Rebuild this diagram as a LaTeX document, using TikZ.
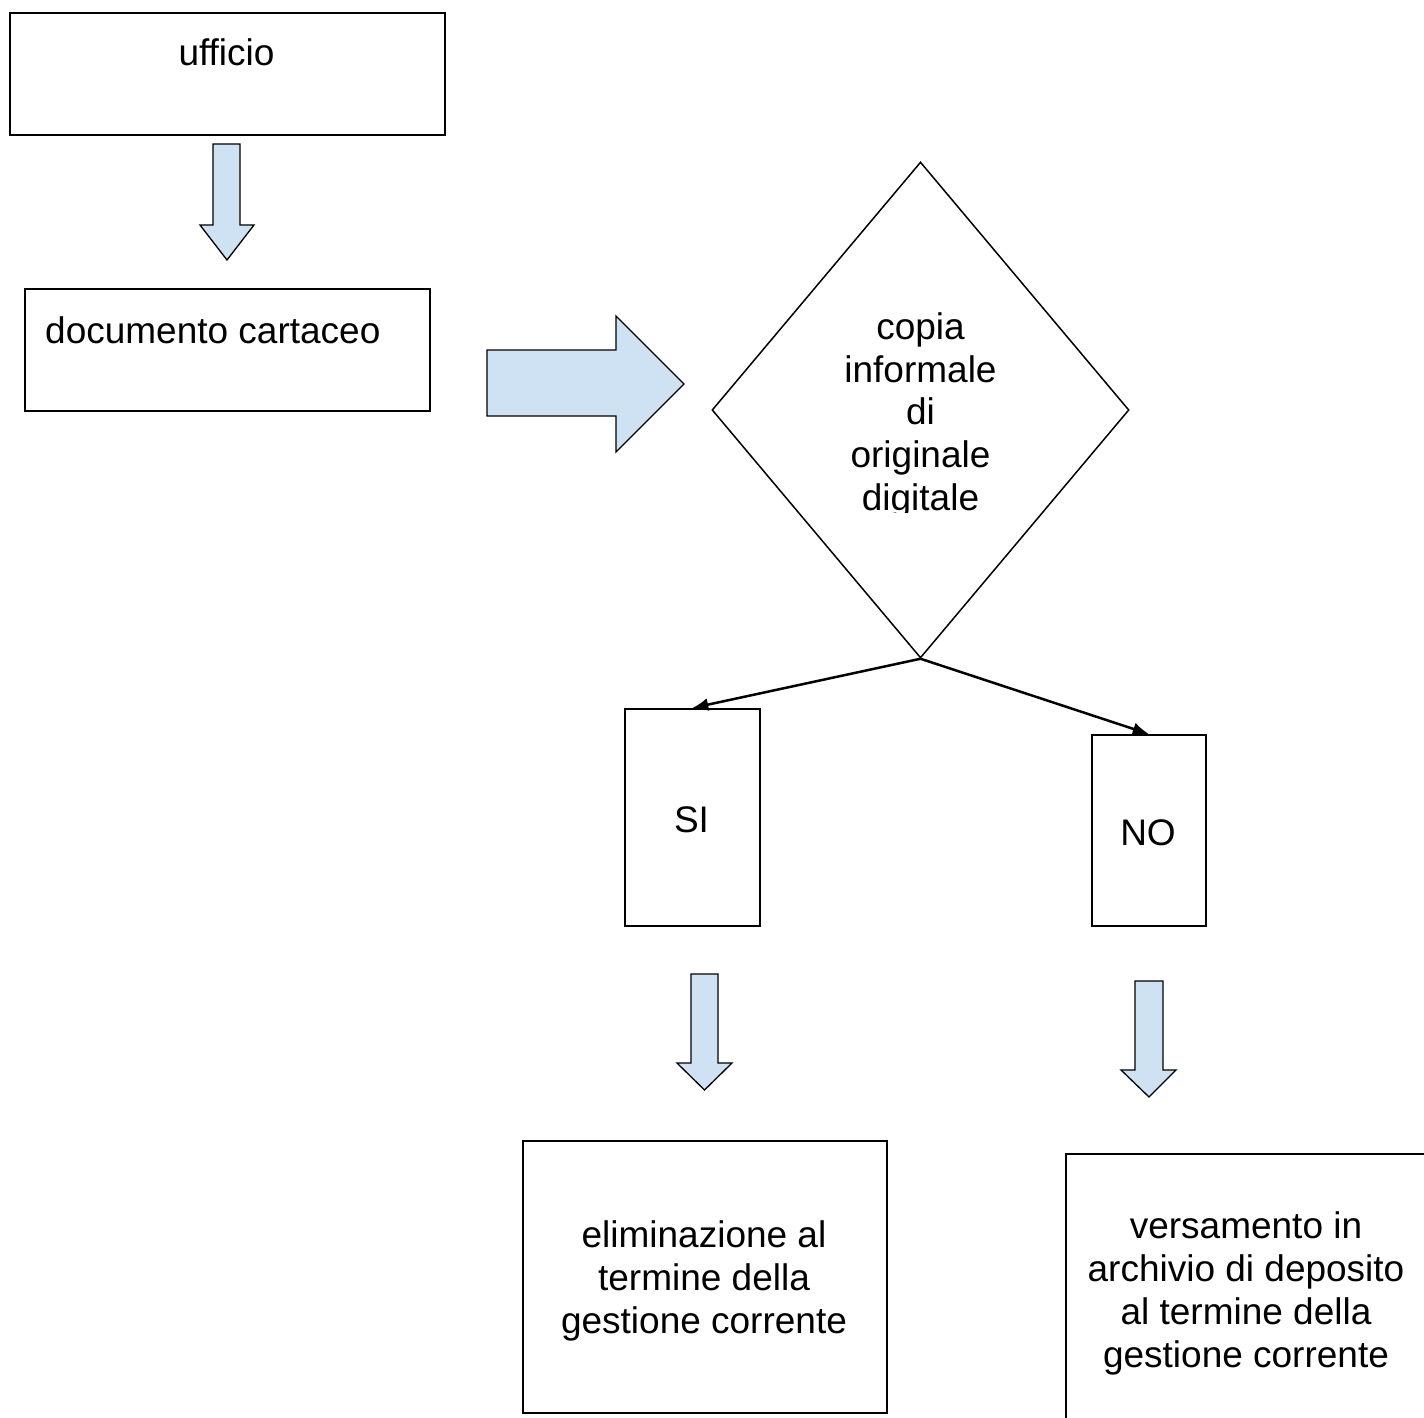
\documentclass[tikz,border=0pt]{standalone}
\usepackage{fontspec}
\setmainfont{Liberation Sans}
\usetikzlibrary{shapes.geometric,arrows.meta}
\definecolor{arrowblue}{HTML}{CFE2F3}
\tikzset{
  box/.style={draw=black, line width=1.6pt, inner sep=0pt, anchor=north west},
  lbl/.style={font=\fontsize{37}{43}\selectfont, inner sep=0pt, anchor=base, align=center},
  blockarrow/.style={draw=black, line width=1.3pt, fill=arrowblue, line join=miter},
  flow/.style={line width=2.5pt, -{Latex[length=16pt,width=13pt]}}
}
\begin{document}
\begin{tikzpicture}[x=1pt,y=-1pt]
\clip (0,0) rectangle (1424,1418);
\fill[white] (0,0) rectangle (1424,1418);
% boxes
\node[box, minimum width=435pt, minimum height=122pt] (ufficio) at (9,12) {};
\node[box, minimum width=405pt, minimum height=122pt] (doc) at (24,288) {};
\node[box, minimum width=135pt, minimum height=217pt] (si) at (624,708) {};
\node[box, minimum width=114pt, minimum height=191pt] (no) at (1091,734) {};
\node[box, minimum width=364pt, minimum height=272pt] (elim) at (522,1140) {};
\node[box, minimum width=420pt, minimum height=320pt] (vers) at (1065,1153) {};
% diamond
\node[draw=black, diamond, line width=1.5pt, minimum width=417pt, minimum height=496pt, inner sep=0pt] (dia) at (920.5,410) {};
% texts
\node[lbl] (ufficiotext) at (226.5,66) {ufficio};
\node[lbl, anchor=base west] (doctext) at (45,343) {documento cartaceo};
\begin{scope}
  \clip (700,280) rectangle (1140,512);
  \node[lbl, font=\fontsize{37}{42.6}\selectfont] (diatext) at (920.5,510) {copia\\informale\\di\\originale\\digitale};
\end{scope}
\node[lbl] (sitext) at (691.5,832) {SI};
\node[lbl] (notext) at (1148,845) {NO};
\node[lbl] (elimtext) at (704,1333) {eliminazione al\\termine della\\gestione corrente};
\node[lbl] (verstext) at (1246,1367) {versamento in\\archivio di deposito\\al termine della\\gestione corrente};
% block arrows
\draw[blockarrow] (213,144) -- (240,144) -- (240,225) -- (254,225) -- (227,260) -- (200,225) -- (213,225) -- cycle;
\draw[blockarrow] (487,350) -- (616,350) -- (616,316) -- (684,384) -- (616,452) -- (616,416) -- (487,416) -- cycle;
\draw[blockarrow] (691,974) -- (718,974) -- (718,1063) -- (732,1063) -- (704.5,1090) -- (677,1063) -- (691,1063) -- cycle;
\draw[blockarrow] (1135,981) -- (1163,981) -- (1163,1070) -- (1176,1070) -- (1149,1097) -- (1121,1070) -- (1135,1070) -- cycle;
% connectors
\draw[flow] (dia.south) -- (si.north);
\draw[flow] (dia.south) -- (no.north);
\end{tikzpicture}
\end{document}
